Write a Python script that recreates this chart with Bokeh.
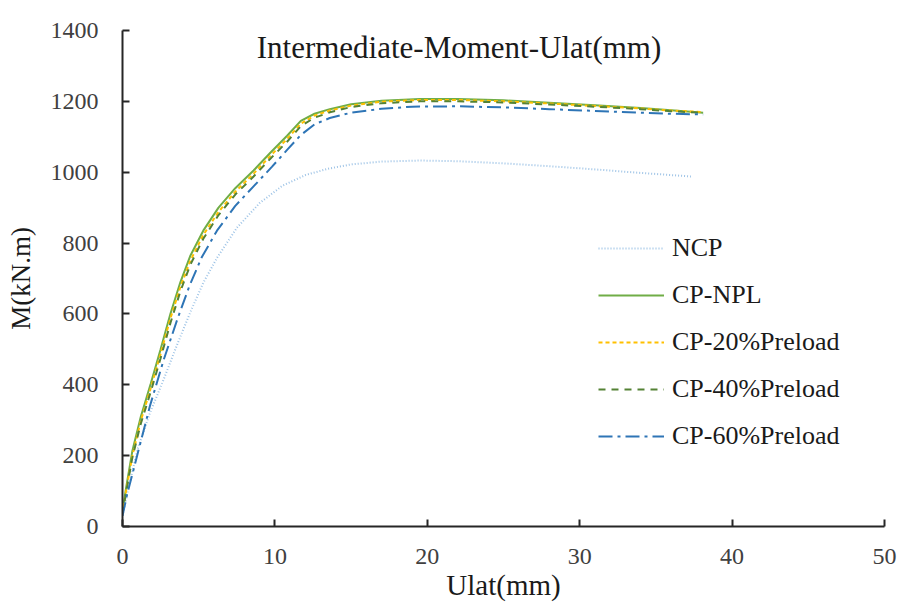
from bokeh.plotting import figure
from bokeh.models import Legend, LegendItem, Label, FixedTicker
from bokeh.embed import file_html
from bokeh.resources import INLINE

# ---- data ----
x_cp = [0, 0.2, 0.65, 1.2, 1.85, 2.5, 3.15, 3.8, 4.46, 5.3, 6.3, 7.4, 8.6, 9.7, 10.8, 11.7, 12.6, 13.6, 15, 17, 19.5, 22, 25, 28, 31, 34, 36, 38.1]
m_npl = [40, 100, 214, 310, 403, 500, 601, 690, 765, 835, 900, 955, 1005, 1055, 1103, 1145, 1165, 1178, 1192, 1202, 1207, 1207, 1203, 1196, 1189, 1181, 1175, 1168]
m_p20 = [35, 92, 200, 298, 390, 487, 588, 676, 751, 823, 888, 945, 996, 1046, 1094, 1137, 1160, 1174, 1188, 1199, 1204, 1204, 1200, 1194, 1187, 1180, 1174, 1170]
m_p40 = [35, 88, 195, 290, 380, 475, 575, 664, 740, 812, 879, 937, 988, 1038, 1086, 1130, 1154, 1169, 1184, 1195, 1200, 1200, 1197, 1191, 1185, 1178, 1172, 1168]

x_p60 = [0, 0.3, 0.9, 1.8, 2.7, 3.6, 4.4, 5.2, 6.2, 7.4, 8.6, 9.8, 10.8, 11.7, 12.6, 13.6, 15, 17, 19, 22, 25, 28, 31, 34, 36, 38.1]
m_p60 = [30, 90, 190, 340, 470, 585, 680, 760, 835, 905, 960, 1015, 1063, 1105, 1135, 1153, 1168, 1179, 1185, 1186, 1183, 1178, 1173, 1168, 1165, 1163]

x_ncp = [0, 0.4, 1.0, 1.8, 2.7, 3.6, 4.5, 5.3, 6.2, 7.5, 9.0, 10.5, 12.0, 13.5, 15, 17, 19.5, 22, 25, 28, 31, 34, 37.3]
m_ncp = [30, 110, 220, 320, 415, 515, 610, 688, 758, 843, 913, 962, 992, 1010, 1022, 1030, 1033, 1031, 1025, 1017, 1008, 998, 988]

x_ticks = [0, 10, 20, 30, 40, 50]
y_ticks = [0, 200, 400, 600, 800, 1000, 1200, 1400]

FONT = "Liberation Serif"

p = figure(frame_width=762, frame_height=496, x_range=(0, 50), y_range=(0, 1400),
           output_backend="svg", toolbar_location=None,
           min_border_left=122, min_border_right=18, min_border_top=30, min_border_bottom=84)
p.outline_line_color = None
p.xgrid.visible = False
p.ygrid.visible = False
p.background_fill_color = "white"
p.border_fill_color = "white"

p.xaxis.ticker = FixedTicker(ticks=x_ticks)
p.yaxis.ticker = FixedTicker(ticks=y_ticks)

p.axis.axis_line_color = "#262626"
p.axis.axis_line_width = 2
p.axis.major_tick_line_color = "#262626"
p.axis.major_tick_line_width = 2
p.axis.major_tick_in = 7
p.axis.major_tick_out = 0
p.axis.minor_tick_line_color = None
p.xaxis.major_label_text_font = "Times New Roman"
p.yaxis.major_label_text_font = "Times New Roman"
p.xaxis.major_label_text_font_size = "24px"
p.yaxis.major_label_text_font_size = "24px"
p.axis.major_label_text_color = "#404040"
p.axis.axis_label_text_font = FONT
p.axis.axis_label_text_font_style = "normal"
p.axis.axis_label_text_color = "#1a1a1a"

p.xaxis.axis_label = "Ulat(mm)"
p.yaxis.axis_label = "M(kN.m)"
p.xaxis.axis_label_text_font_size = "29px"
p.yaxis.axis_label_text_font_size = "27px"
p.xaxis.major_label_standoff = 22
p.yaxis.major_label_standoff = 24
p.xaxis.axis_label_standoff = 2
p.yaxis.axis_label_standoff = 12

r_ncp = p.line(x_ncp, m_ncp, line_color="#9DC3E6", line_width=2, line_dash="1 2")
r_npl = p.line(x_cp, m_npl, line_color="#70AD47", line_width=2)
r_p20 = p.line(x_cp, m_p20, line_color="#FFC000", line_width=2, line_dash="4 3")
r_p40 = p.line(x_cp, m_p40, line_color="#548235", line_width=2, line_dash="7 6")
r_p60 = p.line(x_p60, m_p60, line_color="#2E75B6", line_width=2, line_dash="14 5 3 5")

legend = Legend(items=[
    LegendItem(label="NCP", renderers=[r_ncp]),
    LegendItem(label="CP-NPL", renderers=[r_npl]),
    LegendItem(label="CP-20%Preload", renderers=[r_p20]),
    LegendItem(label="CP-40%Preload", renderers=[r_p40]),
    LegendItem(label="CP-60%Preload", renderers=[r_p60]),
], location=(476, 75), orientation="vertical")
legend.border_line_color = None
legend.background_fill_alpha = 0
legend.padding = 0
legend.margin = 0
legend.spacing = 17
legend.glyph_width = 66
legend.glyph_height = 30
legend.label_height = 30
legend.label_standoff = 8
legend.label_text_font = FONT
legend.label_text_font_size = "26px"
legend.label_text_color = "#1a1a1a"
p.add_layout(legend)

title = Label(x=22.08, y=1352, text="Intermediate-Moment-Ulat(mm)",
              text_font=FONT, text_font_size="31px", text_color="#1a1a1a",
              text_align="center", text_baseline="middle")
p.add_layout(title)

open("out.html", "w").write(file_html(p, INLINE))
